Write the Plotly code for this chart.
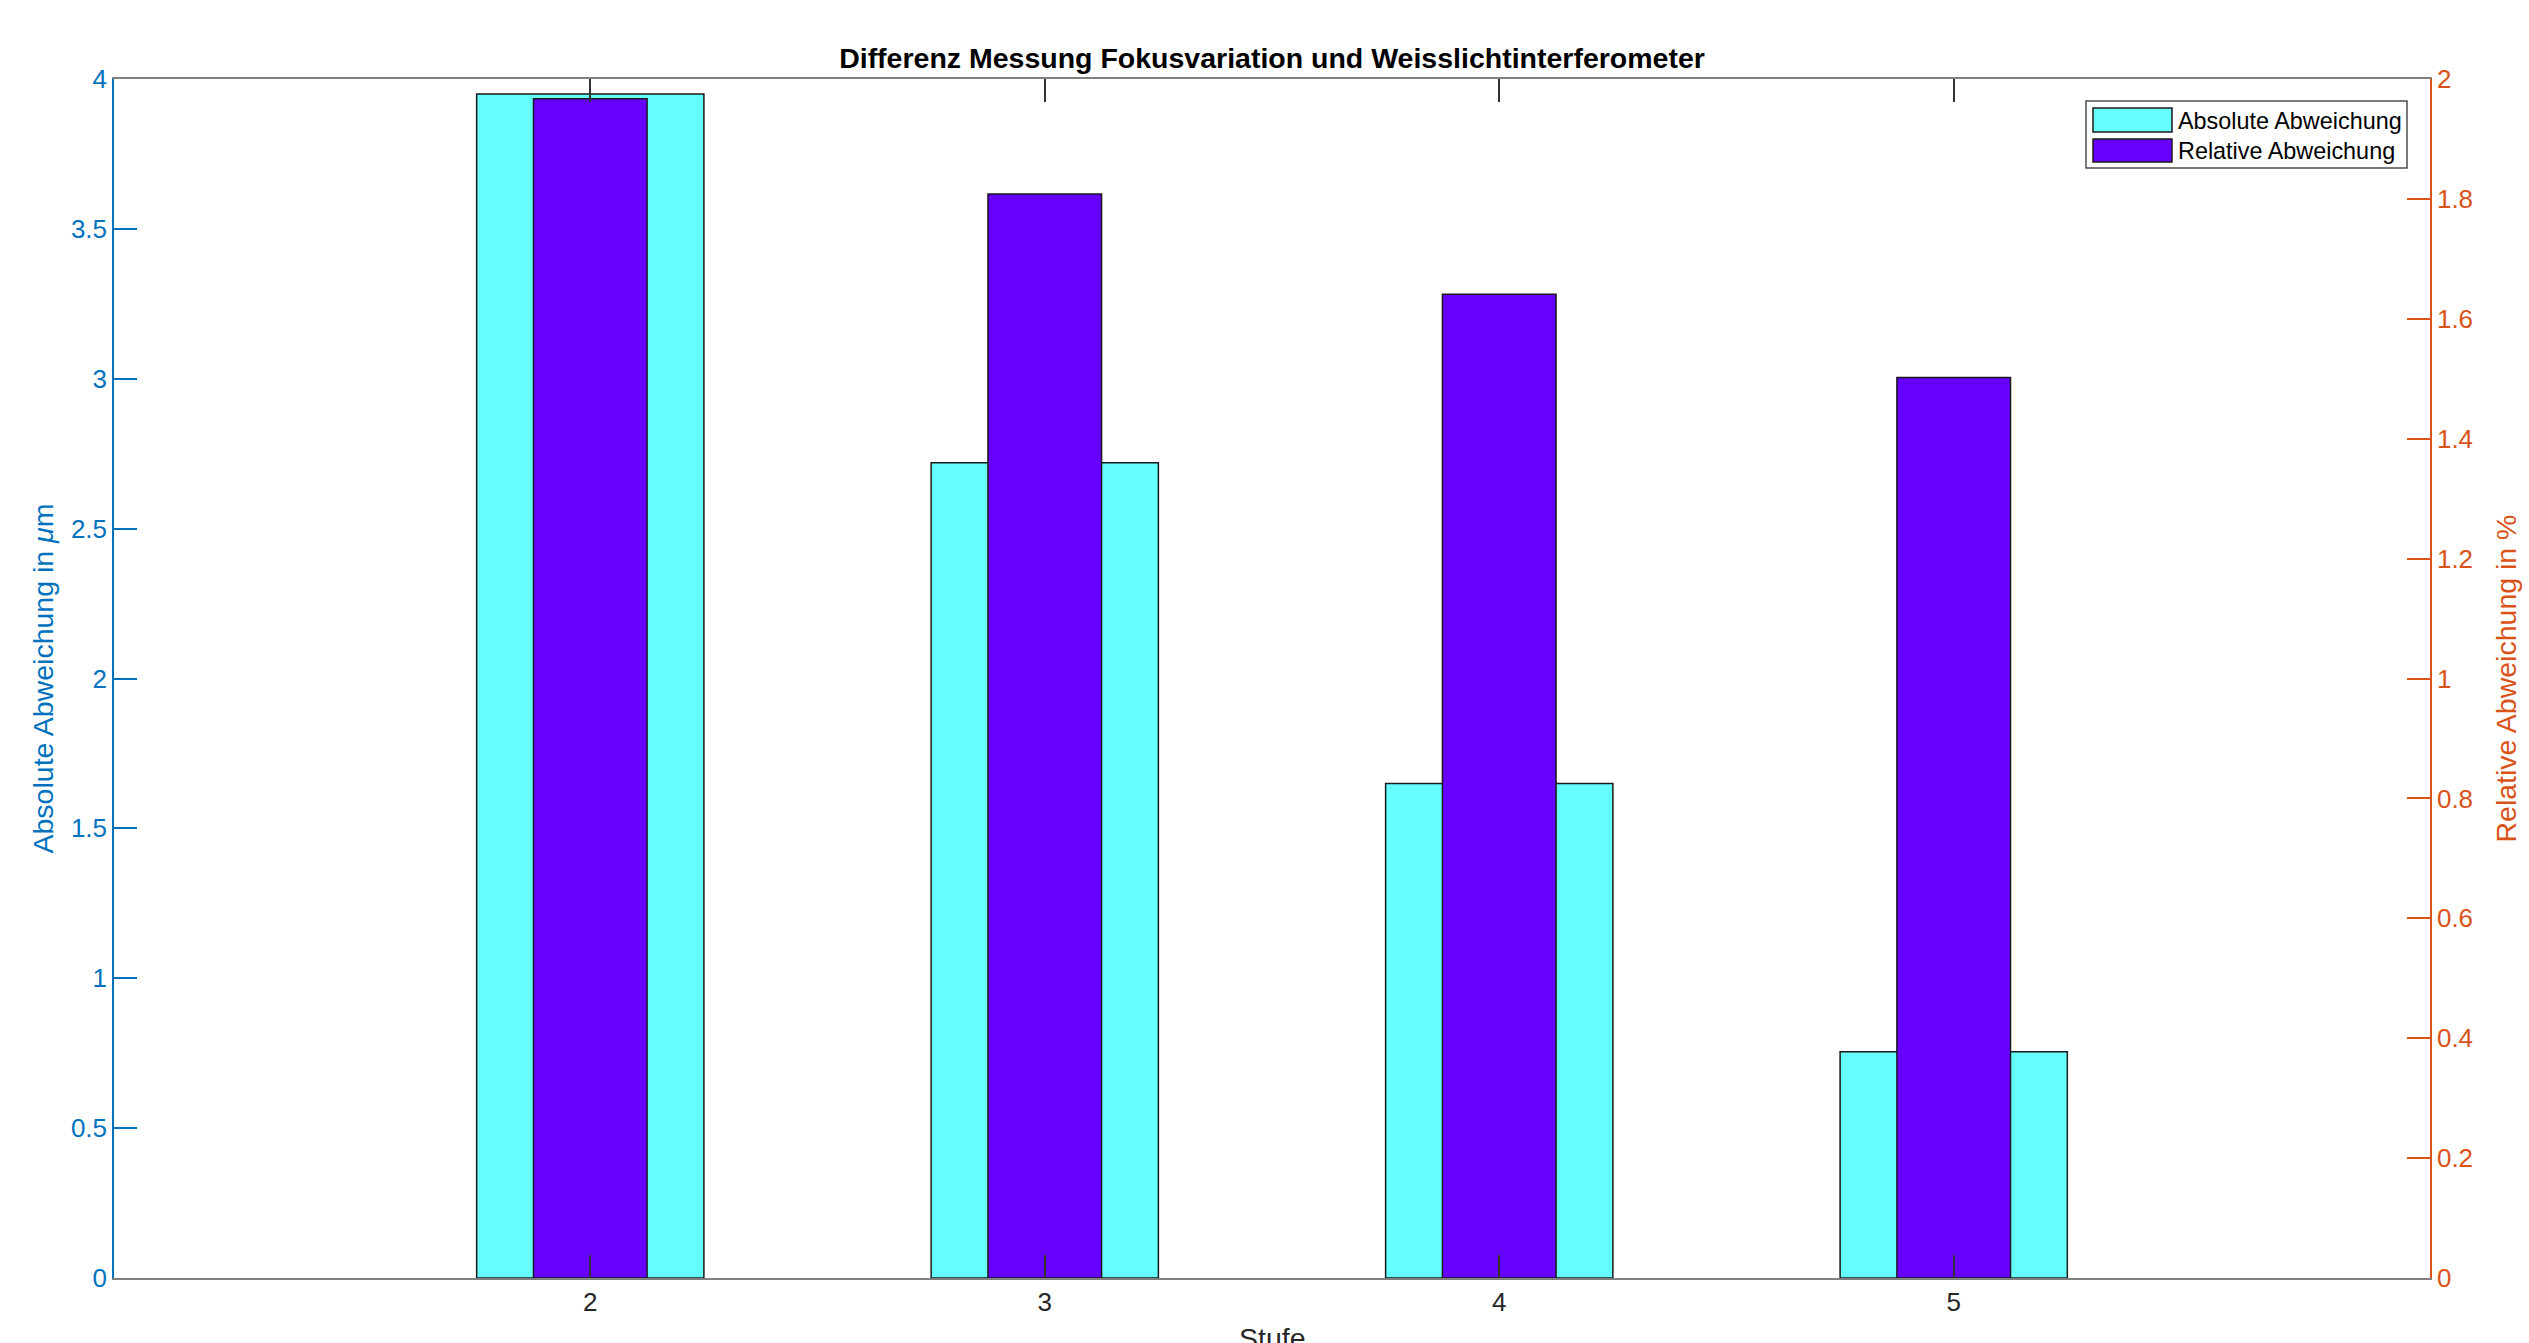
import plotly.graph_objects as go

# Measured deviations per step (Stufe)
stufen = [2, 3, 4, 5]
absolute_abweichung = [3.95, 2.72, 1.65, 0.755]   # in µm (left axis)
relative_abweichung = [1.967, 1.808, 1.641, 1.502]  # in % (right axis)
serien_namen = ["Absolute Abweichung", "Relative Abweichung"]

# Figure geometry (pixels)
W, H = 2529, 1343
ML, MR, MT, MB = 114, 99, 79, 65
PW, PH = W - ML - MR, H - MT - MB

FONT = "Liberation Sans, Arial, Helvetica, sans-serif"
BLUE = "#0072BD"
ORANGE = "#D95319"
CYAN = "#66FFFF"
PURPLE = "#6600FF"
DARK = "#262626"


def px_x(px):
    return (px - ML) / PW


def px_y(py):
    return (H - MB - py) / PH


fig = go.Figure()
fig.add_trace(go.Bar(
    x=stufen, y=absolute_abweichung, width=0.5, name=serien_namen[0],
    marker=dict(color=CYAN, line=dict(color="#1a1a1a", width=1.5)),
    yaxis="y", showlegend=False,
))
fig.add_trace(go.Bar(
    x=stufen, y=relative_abweichung, width=0.25, name=serien_namen[1],
    marker=dict(color=PURPLE, line=dict(color="#1a1a1a", width=1.5)),
    yaxis="y2", showlegend=False,
))

fig.update_layout(
    width=W, height=H,
    margin=dict(l=ML, r=MR, t=MT, b=MB, autoexpand=False),
    paper_bgcolor="white", plot_bgcolor="white",
    barmode="overlay",
    font=dict(family=FONT, size=26, color=DARK),
    title=dict(
        text="Differenz Messung Fokusvariation und Weisslichtinterferometer",
        x=0.5, xref="paper", xanchor="center",
        y=1 - 58 / H, yref="container", yanchor="middle",
        font=dict(family=FONT, size=28.5, color="#000000", weight="bold"),
    ),
    xaxis=dict(
        range=[0.952, 6.048], tickvals=stufen, ticktext=[str(s) for s in stufen],
        ticks="inside", ticklen=23, tickwidth=1.5, tickcolor="#333333",
        showline=True, linecolor="#808080", linewidth=2, mirror="ticks",
        showgrid=False, zeroline=False,
        tickfont=dict(family=FONT, size=26, color=DARK),
    ),
    yaxis=dict(
        range=[0, 4], dtick=0.5, tick0=0,
        ticks="inside", ticklen=23, tickwidth=1.5, tickcolor=BLUE,
        showline=True, linecolor=BLUE, linewidth=1.5,
        showgrid=False, zeroline=False,
        tickfont=dict(family=FONT, size=26, color=BLUE),
    ),
    yaxis2=dict(
        overlaying="y", side="right",
        range=[0, 2], dtick=0.2, tick0=0,
        ticks="inside", ticklen=23, tickwidth=1.5, tickcolor=ORANGE,
        showline=True, linecolor=ORANGE, linewidth=1.5,
        showgrid=False, zeroline=False,
        tickfont=dict(family=FONT, size=26, color=ORANGE),
    ),
)

# Axis titles
fig.add_annotation(
    text="Absolute Abweichung in <i>μ</i>m", textangle=-90,
    xref="paper", yref="paper", x=px_x(42), y=0.5,
    xanchor="center", yanchor="middle", showarrow=False,
    font=dict(family=FONT, size=28.5, color=BLUE),
)
fig.add_annotation(
    text="Relative Abweichung in %", textangle=-90,
    xref="paper", yref="paper", x=px_x(2505), y=0.5,
    xanchor="center", yanchor="middle", showarrow=False,
    font=dict(family=FONT, size=28.5, color=ORANGE),
)
fig.add_annotation(
    text="Stufe", xref="paper", yref="paper", x=0.5, y=px_y(1320),
    xanchor="center", yanchor="top", showarrow=False,
    font=dict(family=FONT, size=28.5, color=DARK),
)

# Legend box with swatches
fig.add_shape(
    type="rect", xref="paper", yref="paper",
    x0=px_x(2086), x1=px_x(2407), y0=px_y(168), y1=px_y(101),
    line=dict(color="#4d4d4d", width=1.5), fillcolor="white", layer="above",
)
legend_rows = [(CYAN, 108, 132, 120), (PURPLE, 139, 162, 150.5)]
for name, (farbe, top, bot, mid) in zip(serien_namen, legend_rows):
    fig.add_shape(
        type="rect", xref="paper", yref="paper",
        x0=px_x(2093), x1=px_x(2172), y0=px_y(bot), y1=px_y(top),
        line=dict(color="#1a1a1a", width=1.5), fillcolor=farbe, layer="above",
    )
    fig.add_annotation(
        text=name, xref="paper", yref="paper", x=px_x(2176), y=px_y(mid + 1),
        xanchor="left", yanchor="middle", showarrow=False,
        font=dict(family=FONT, size=23.4, color="#000000"),
    )

fig.write_html("out.html")
